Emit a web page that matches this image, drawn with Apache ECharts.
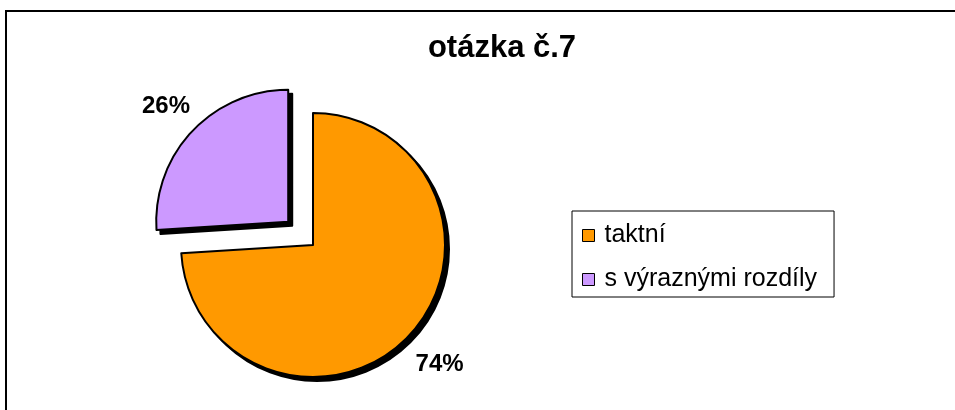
<!DOCTYPE html>
<html>
<head>
<meta charset="utf-8">
<script src="https://cdn.jsdelivr.net/npm/echarts@6/dist/echarts.min.js"></script>
<style>
html,body{margin:0;padding:0;background:#fff;}
#c{width:955px;height:410px;}
</style>
</head>
<body>
<div id="c"></div>
<script>
const titleText = 'otázka č.7';
const categories = ['taktní', 's výraznými rozdíly'];
const values = [74, 26];
const colors = ['#FF9900', '#CC99FF'];
const exploded = [false, true];
const labelLineLengths = [43, 37];

const FONT = '"Liberation Sans", Arial, sans-serif';
const chart = echarts.init(document.getElementById('c'), null, {renderer: 'canvas'});

const CENTER = [313, 245];
const R = 132;
const SHADOW = 4;

const mainData = categories.map((name, i) => ({
  name: name,
  value: values[i],
  selected: exploded[i],
  itemStyle: {color: colors[i]},
  labelLine: {length: labelLineLengths[i], length2: 0, show: false}
}));
const shadowData = categories.map((name, i) => ({
  name: name,
  value: values[i],
  selected: exploded[i]
}));

chart.setOption({
  animation: false,
  backgroundColor: '#fff',
  graphic: [{
    type: 'rect',
    shape: {x: 6, y: 11, width: 1000, height: 500},
    style: {fill: 'none', stroke: '#000', lineWidth: 2},
    silent: true,
    z: 100
  }],
  title: {
    text: titleText,
    left: 497,
    top: 28,
    textAlign: 'center',
    textStyle: {fontFamily: FONT, fontWeight: 'bold', fontSize: 31, color: '#000'}
  },
  legend: {
    orient: 'vertical',
    left: 572,
    top: 211,
    data: categories,
    icon: 'rect',
    itemWidth: 12,
    itemHeight: 12,
    itemGap: 19,
    padding: [12, 17, 5, 10],
    borderColor: '#000',
    borderWidth: 1,
    selectedMode: false,
    itemStyle: {borderColor: '#000', borderWidth: 1, shadowBlur: 0, shadowOffsetX: 0, shadowOffsetY: 0, shadowColor: 'rgba(0,0,0,0)'},
    textStyle: {fontFamily: FONT, fontSize: 25, color: '#000', lineHeight: 25, padding: [0, 0, 0, 5]}
  },
  series: [{
    type: 'pie',
    z: 3,
    center: CENTER,
    radius: [0, R],
    startAngle: 90,
    clockwise: true,
    selectedMode: 'single',
    selectedOffset: 34,
    avoidLabelOverlap: false,
    emphasis: {disabled: true, scale: false},
    itemStyle: {borderColor: '#000', borderWidth: 2},
    label: {
      show: true,
      position: 'outside',
      formatter: p => Math.round(p.percent) + '%',
      fontFamily: FONT,
      fontWeight: 'bold',
      fontSize: 24,
      color: '#000',
      distanceToLabelLine: -25
    },
    labelLine: {show: false},
    data: mainData
  }, {
    type: 'pie',
    z: 1,
    silent: true,
    center: [CENTER[0] + SHADOW, CENTER[1] + SHADOW],
    radius: [0, R],
    startAngle: 90,
    clockwise: true,
    selectedMode: 'single',
    selectedOffset: 34,
    emphasis: {disabled: true, scale: false},
    itemStyle: {color: '#000', borderColor: '#000', borderWidth: 2},
    label: {show: false},
    labelLine: {show: false},
    data: shadowData
  }]
});
</script>
</body>
</html>
